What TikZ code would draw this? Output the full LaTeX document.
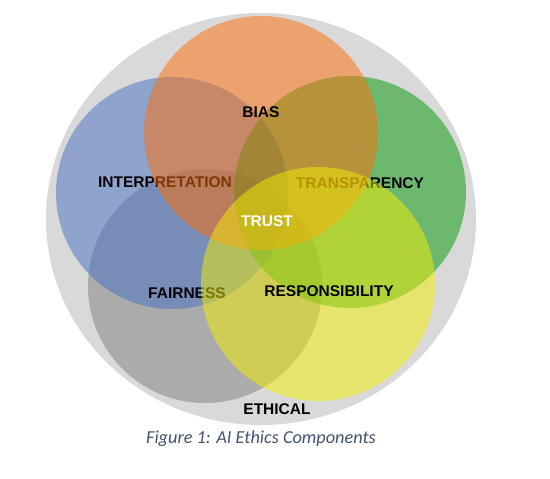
\documentclass[tikz,border=0pt]{standalone}
\usepackage{fontspec}
\setmainfont{Liberation Sans}
\newfontfamily\capfont{Carlito}
\usepackage{xcolor}
\usepackage{tikz}

\definecolor{ringgray}{RGB}{217,217,217}
\definecolor{fairgray}{RGB}{127,127,127}
\definecolor{interpblue}{RGB}{69,113,195}
\definecolor{transgreen}{RGB}{3,153,7}
\definecolor{biasorange}{RGB}{255,109,7}
\definecolor{respyellow}{RGB}{243,239,3}
\definecolor{capblue}{RGB}{66,84,112}

\begin{document}
\begin{tikzpicture}[x=1pt, y=-1pt,
  disc/.style={fill opacity=0.5},
  tag/.style={font=\bfseries\fontsize{15.5}{18}\selectfont, text=black,
    inner sep=0pt},
  caption/.style={font=\capfont\itshape\fontsize{18.3}{21}\selectfont,
    text=capblue, inner sep=0pt}
]
\useasboundingbox (0,0) rectangle (550,479);
\fill[ringgray] (261,219) ellipse[x radius=215pt, y radius=206pt];
\fill[disc, fill=fairgray] (205,286) circle[radius=117pt];
\fill[disc, fill=interpblue] (172,193) circle[radius=116pt];
\fill[disc, fill=transgreen] (350,192) circle[radius=116pt];
% these three sit under the orange and yellow discs
\node[tag] (interp) at (165,182) {INTERPRETATION};
\node[tag] (transp) at (360,183) {TRANSPARENCY};
\node[tag] (fair) at (187,293) {FAIRNESS};
\fill[disc, fill=biasorange] (261,133) circle[radius=117pt];
\fill[disc, fill=respyellow] (318,284) circle[radius=117pt];
\node[tag] (bias) at (261,112) {BIAS};
\node[tag, text=white] (trust) at (267,221) {TRUST};
\node[tag] (resp) at (329,291) {RESPONSIBILITY};
\node[tag] (ethical) at (277,409) {ETHICAL};
\node[caption] (cap) at (261,439) {Figure 1: AI Ethics Components};
\end{tikzpicture}
\end{document}
